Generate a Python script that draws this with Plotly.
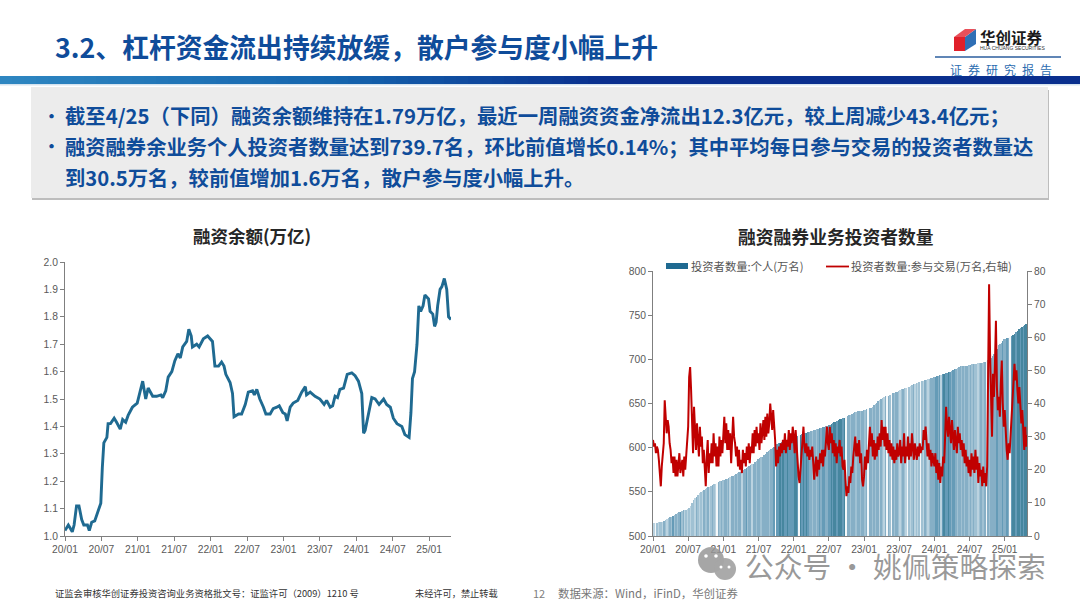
import plotly.graph_objects as go

W, H = 1080, 608
TITLE = "3.2、杠杆资金流出持续放缓，散户参与度小幅上升"
BULLET_1 = "截至4/25（下同）融资余额维持在1.79万亿，最近一周融资资金净流出12.3亿元，较上周减少43.4亿元；"
BULLET_2A = "融资融券余业务个人投资者数量达到739.7名，环比前值增长0.14%；其中平均每日参与交易的投资者数量达"
BULLET_2B = "到30.5万名，较前值增加1.6万名，散户参与度小幅上升。"
TICK_LABELS = ["20/01", "20/07", "21/01", "21/07", "22/01", "22/07", "23/01", "23/07", "24/01", "24/07", "25/01"]
TICK_MONTHS = [0, 6, 12, 18, 24, 30, 36, 42, 48, 54, 60]

# months since Jan 2020 / margin balance (trillion yuan)
margin_months = [0,.55,.82,1.2,1.5,1.9,2.3,2.75,3.1,3.7,4.0,4.4,4.9,5.5,5.9,6.15,6.4,6.9,7.1,7.5,8.1,8.5,9.1,9.5,10,10.4,11.1,11.9,12.25,12.8,13.3,13.7,14.45,15.1,15.8,16.1,16.6,17,17.6,18.1,18.6,19,19.4,20.05,20.4,20.8,21,21.7,22.1,22.8,23.5,24.3,24.7,25.3,25.8,26.2,26.5,27.2,27.6,27.85,28.6,29.1,29.7,30.2,30.9,31.2,31.6,32.1,32.7,33.1,33.8,34.3,34.9,35.3,35.9,36.3,36.6,37.1,37.6,38.35,39,39.6,39.8,40.4,41.2,42,42.7,43.1,43.7,44.1,44.5,44.9,45.3,45.9,46.5,47.25,47.8,48.35,48.9,49.2,49.45,50,50.55,51.1,51.75,52.5,53,53.6,54.1,54.7,55.5,56,56.7,57,57.25,57.6,58,58.3,58.6,59,59.3,59.9,60.15,60.6,60.9,61.15,61.4,61.8,62.1,62.5,62.9,63.2,63.6]
margin_balance = [1.02,1.04,1.03,1.015,1.04,1.11,1.11,1.06,1.04,1.04,1.02,1.05,1.055,1.09,1.12,1.25,1.34,1.36,1.41,1.41,1.43,1.415,1.39,1.425,1.415,1.44,1.47,1.485,1.52,1.565,1.50,1.54,1.51,1.51,1.515,1.505,1.53,1.58,1.60,1.64,1.665,1.65,1.69,1.71,1.755,1.73,1.69,1.70,1.69,1.72,1.73,1.71,1.62,1.62,1.635,1.62,1.59,1.56,1.52,1.435,1.445,1.445,1.48,1.525,1.53,1.515,1.535,1.50,1.47,1.445,1.445,1.465,1.47,1.475,1.45,1.445,1.42,1.47,1.485,1.495,1.525,1.545,1.515,1.525,1.51,1.50,1.48,1.495,1.47,1.475,1.51,1.505,1.535,1.54,1.59,1.595,1.585,1.565,1.52,1.375,1.385,1.45,1.505,1.50,1.48,1.50,1.48,1.47,1.43,1.41,1.40,1.37,1.36,1.45,1.575,1.60,1.70,1.84,1.82,1.84,1.88,1.865,1.82,1.81,1.765,1.78,1.84,1.90,1.91,1.94,1.90,1.80,1.79]

# individual investors (10k), four readings per month
investors = [515,515,515,515, 516,516,516,516, 517,518,519,520, 522,522,523,524, 525,526,527,527, 528,529,530,530,
             531,532,534,537, 541,543,544,546, 549,550,551,552, 553,554,555,556, 557,558,559,559, 560,561,562,562,
             563,563,564,565, 566,567,568,568, 569,570,571,572, 573,574,575,576, 577,578,579,580, 581,582,584,585,
             587,588,589,590, 592,593,595,596, 597,598,600,601, 603,604,605,605, 606,606,607,608, 609,609,610,610,
             611,611,612,613, 614,614,615,616, 617,617,618,618, 619,619,620,620, 621,621,622,622, 623,623,624,625,
             626,626,627,628, 629,629,630,631, 632,633,634,634, 635,636,637,637, 638,639,640,640, 641,641,642,642,
             643,643,644,644, 645,645,646,648, 650,651,653,654, 655,656,657,658, 659,659,660,661, 662,662,663,663,
             664,665,666,666, 667,668,669,669, 670,671,672,672, 673,673,674,674, 675,676,677,677, 678,678,679,679,
             680,680,681,681, 682,682,683,683, 684,685,686,686, 687,688,689,689, 690,691,692,692, 693,693,693,693,
             694,694,695,695, 695,695,696,696, 696,696,697,697, 698,699,701,702, 704,706,709,712, 716,717,719,721,
             723,723,724,724, 725,726,727,729, 731,732,734,735, 737,738,739,739.7]

# daily participants (10k, right axis), six readings per month
participants = [29,27,28,25,27,26, 23,19,15,21,25,28, 41,35,31,35,33,28, 26,22,24,19,24,18, 23,18,23,25,19,22, 23,18,24,20,25,27,
                33,48,51,44,36,25, 39,31,26,34,28,24, 33,27,30,22,26,18, 15,24,29,19,25,22, 28,22,31,24,28,21, 27,21,30,24,29,25,
                30,36,28,34,26,32, 26,31,22,28,36,30, 28,24,27,21,26,20, 23,19,26,22,25,21, 27,23,28,22,27,25, 31,25,32,27,33,28,
                31,26,34,28,32,35, 29,36,30,37,31,34, 40,36,32,38,34,29, 21,26,22,27,24,28, 25,29,26,31,25,29, 27,32,26,31,28,33,
                30,25,32,27,24,18, 16,20,24,28,33,27, 25,28,24,27,23,26, 24,27,21,17,21,24, 18,23,20,25,22,26, 21,26,24,29,33,28,
                26,33,28,31,25,29, 24,28,22,27,25,29, 24,27,21,20,23,17, 12,15,13,18,16,21, 19,24,27,30,24,28, 24,29,22,25,17,15,
                18,24,20,26,22,29, 33,27,31,24,29,23, 28,24,30,26,31,27, 35,29,33,27,33,26, 31,25,29,24,28,23, 27,22,26,23,28,24,
                25,29,22,27,24,31, 22,27,24,30,23,28, 24,31,26,23,28,25, 23,27,24,28,25,27, 26,32,29,33,26,24, 28,23,26,21,25,22,
                21,25,19,23,17,22, 16,21,18,24,22,30, 39,33,30,36,32,28, 35,29,26,32,28,25, 33,28,31,26,29,24, 28,22,26,21,24,19,
                23,18,25,20,24,19, 26,20,24,16,22,18, 20,15,21,16,19,15, 21,60,76,55,40,30, 49,42,52,65,45,38, 42,36,46,53,40,33,
                38,31,26,23,28,25, 30,35,41,46,52,47, 50,44,40,45,38,34, 38,30,26,33,27,30.5]

# stripe shade of each investor bar
stripe_shades = ("110212213212324232342312"
                 "121221321213223123210323"
                 "233231332323313342331332"
                 "332333332334044545445444"
                 "455405454543323323434433"
                 "445455455545033233323323"
                 "323033232331321303203233"
                 "212321021231212021321233"
                 "344341454454344323323233"
                 "232322123223032333343334"
                 "3343045545545455")
shade_colors = {"0": "#F4F8FA", "1": "#BBD3E0", "2": "#A0C1D3", "3": "#86AFC6", "4": "#659BB7", "5": "#46869F"}

BLUE = "#1F6A91"
RED = "#C00000"
TXT = "#0F4C9A"
AX = "#7F7F7F"
TICK = "#595959"
SANS = "Liberation Sans"
CJK = "Noto Sans CJK SC"

def px(x): return x / W
def py(y): return 1 - y / H

fig = go.Figure()
fig.add_trace(go.Scatter(x=margin_months, y=margin_balance, mode="lines",
                         line=dict(color=BLUE, width=2.9), xaxis="x", yaxis="y", name="融资余额"))
fig.add_trace(go.Bar(x=[i / 4 for i in range(len(investors))], y=investors, width=0.25,
                     marker=dict(color=[shade_colors[c] for c in stripe_shades], line=dict(width=0)),
                     xaxis="x2", yaxis="y2", name="投资者数量:个人(万名)"))
fig.add_trace(go.Scatter(x=[i / 6 for i in range(len(participants))], y=participants, mode="lines",
                         line=dict(color=RED, width=2), xaxis="x2", yaxis="y3", name="投资者数量:参与交易(万名,右轴)"))

def axis_style(**kw):
    d = dict(showgrid=False, zeroline=False, showline=True, linecolor=AX, linewidth=1, automargin=False,
             ticks="outside", ticklen=4, tickcolor=AX, tickfont=dict(family=SANS, size=10.3, color=TICK))
    d.update(kw)
    return d

shapes = []
def rect(x0, y0, x1, y1, color):
    shapes.append(dict(type="rect", xref="paper", yref="paper", x0=px(x0), x1=px(x1), y0=py(y0), y1=py(y1),
                       fillcolor=color, line=dict(width=0), layer="below"))

# header gradient band
def lerp(a, b, t): return tuple(round(a[i] + (b[i] - a[i]) * t) for i in range(3))
c0, c1, c2 = (46, 134, 193), (21, 101, 174), (10, 47, 142)
STEP = 12
for x in range(0, W, STEP):
    if x < 330: c = lerp(c0, c1, x / 330)
    elif x < 600: c = lerp(c1, c2, (x - 330) / 270)
    else: c = c2
    rect(x, 76, x + STEP + 0.5, 84, "rgb(%d,%d,%d)" % c)
rect(0, 84, W, 85.5, "#D5E3EF")
# text box with soft shadow
rect(32, 90, 1049, 200, "#BDBDBD")
rect(31, 87, 1048, 198, "#ECECEC")
# logo
def path(d, color):
    shapes.append(dict(type="path", xref="paper", yref="paper", path=d, fillcolor=color, line=dict(width=0)))
def pth(pts): return "M" + " L".join(f"{px(a):.5f},{py(b):.5f}" for a, b in pts) + " Z"
path(pth([(954, 37), (965, 37), (965, 51), (954, 51)]), "#E0202A")
path(pth([(965, 37), (976, 29), (976, 44), (965, 51)]), "#2F6FB5")
path(pth([(954, 37), (965, 29), (976, 29), (965, 37)]), "#E8505A")
rect(935, 56.3, 1061, 57.8, "#2B5E9E")
# watermark icon
def circle(cx, cy, r, color):
    shapes.append(dict(type="circle", xref="paper", yref="paper", x0=px(cx - r), x1=px(cx + r),
                       y0=py(cy - r), y1=py(cy + r), fillcolor=color, line=dict(width=0)))
circle(711, 560, 13, "rgba(150,150,150,0.85)")
circle(725, 569, 11, "rgba(165,165,165,0.95)")
for cx, cy, r in [(706, 556, 1.8), (716, 556, 1.8), (721, 567, 1.5), (729, 567, 1.5)]:
    circle(cx, cy, r, "#FFFFFF")
# legend of the right chart
rect(666, 263, 688, 269, "#1F6A91")
shapes.append(dict(type="line", xref="paper", yref="paper", x0=px(826), x1=px(849), y0=py(266.5), y1=py(266.5),
                   line=dict(color=RED, width=1.8)))

annots = []
def text(x, y, s, size, color, bold=False, font=CJK, anchor="left"):
    annots.append(dict(xref="paper", yref="paper", x=px(x), y=py(y), text=f"<b>{s}</b>" if bold else s,
                       showarrow=False, xanchor=anchor, yanchor="middle", align=anchor,
                       font=dict(family=font, size=size, color=color), borderpad=0, borderwidth=0))
text(55, 46.5, TITLE, 26.8, "#0F4C9A", True)
text(980, 36.5, "华创证券", 15.5, "#1A1A1A", True)
text(980, 47.5, "HUA CHUANG SECURITIES", 5, "#333333", False, SANS)
text(950, 69, "证\u2002券\u2002研\u2002究\u2002报\u2002告", 12, "#2B6CB0")
text(43, 115, "•", 17, TXT, True)
text(43, 146, "•", 17, TXT, True)
text(65, 115, BULLET_1, 20.35, TXT, True)
text(65, 146, BULLET_2A, 20.3, TXT, True)
text(65, 177, BULLET_2B, 20.3, TXT, True)
text(252, 236, "融资余额(万亿)", 17.5, "#262626", True, anchor="center")
text(836, 236, "融资融券业务投资者数量", 17.8, "#262626", True, anchor="center")
text(691, 266, "投资者数量:个人(万名)", 11.3, "#555555")
text(851, 266, "投资者数量:参与交易(万名,右轴)", 11.3, "#555555")
text(55, 593, "证监会审核华创证券投资咨询业务资格批文号：证监许可（2009）1210 号", 9.3, "#333333")
text(415, 593, "未经许可，禁止转载", 9.2, "#333333")
text(533, 593, "12", 11, "#808080")
text(558, 593, "数据来源：Wind，iFinD，华创证券", 11.4, "#777777")
text(745, 565, "公众号 · 姚佩策略探索", 28.8, "rgba(120,120,120,0.75)")

fig.update_layout(
    width=W, height=H, margin=dict(l=0, r=0, t=0, b=0, autoexpand=False), autosize=False,
    paper_bgcolor="#FFFFFF", plot_bgcolor="rgba(0,0,0,0)", showlegend=False, barmode="overlay", bargap=0,
    shapes=shapes, annotations=annots,
    xaxis=axis_style(domain=[px(65), px(451)], range=[0, 63.6], tickvals=TICK_MONTHS, ticktext=TICK_LABELS, anchor="y"),
    yaxis=axis_style(domain=[py(536), py(262)], range=[1.0, 2.0], dtick=0.1, tickformat=".1f", anchor="x"),
    xaxis2=axis_style(domain=[px(653), px(1027)], range=[0, 63.8], tickvals=TICK_MONTHS, ticktext=TICK_LABELS, anchor="y2"),
    yaxis2=axis_style(domain=[py(536), py(271)], range=[500, 800], dtick=50, anchor="x2"),
    yaxis3=axis_style(domain=[py(536), py(271)], range=[0, 80], dtick=10, side="right", overlaying="y2", anchor="x2"),
)
fig.write_html("out.html", config=dict(displayModeBar=False),
               post_script="document.body.style.margin='0';document.body.style.overflow='hidden';")
